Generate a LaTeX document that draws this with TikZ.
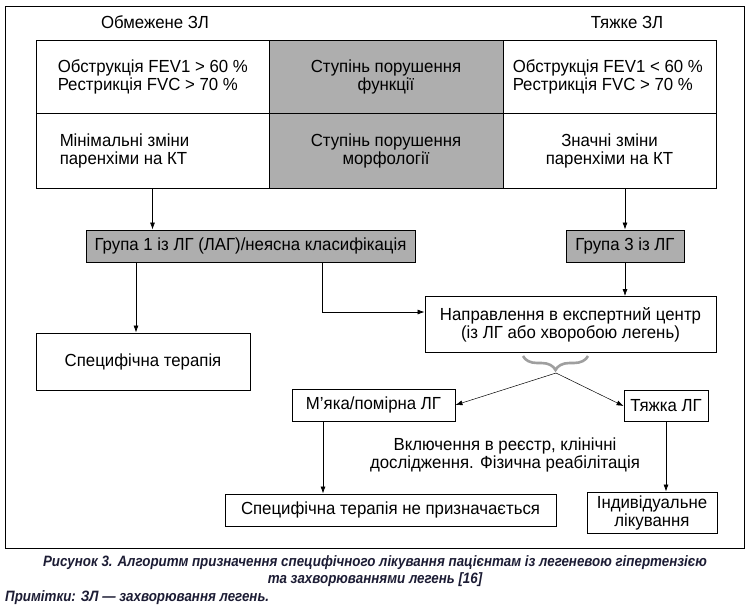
\documentclass[tikz,border=0pt]{standalone}
\usepackage{fontspec}
\setmainfont{Liberation Sans}[FakeStretch=0.96]
\newfontfamily\capfont{Liberation Sans}[FakeStretch=0.89]
\usetikzlibrary{arrows.meta,decorations.pathreplacing,calc}
\definecolor{boxgray}{RGB}{174,174,174}
\definecolor{capcol}{RGB}{28,28,52}
\begin{document}
\begin{tikzpicture}[x=1pt,y=-1pt,
  every node/.style={font=\fontsize{17.5}{18}\selectfont, inner sep=0pt},
  cell/.style={draw, line width=0.9pt, rectangle, align=center},
  graycell/.style={cell, fill=boxgray},
  box/.style={draw, line width=0.9pt, rectangle, align=center},
  graybox/.style={box, fill=boxgray},
  arr/.style={line width=0.7pt, -{Latex[length=7pt,width=5pt]}},
  capstyle/.style={font=\capfont\bfseries\itshape\fontsize{15}{16.5}\selectfont, text=capcol}]
\useasboundingbox (0,0) rectangle (749,611);
% outer frame
\draw[line width=0.9pt] (5,6) rectangle (744,548);
% headings
\node (h1) at (155,22) {Обмежене ЗЛ};
\node (h2) at (627,22) {Тяжке ЗЛ};
% table cells
\node[cell, minimum width=233, minimum height=73] (c11) at (152.5,76.5) {};
\node[graycell, minimum width=234, minimum height=73] (c12) at (386,76.5) {Ступінь порушення\\функції};
\node[cell, minimum width=213, minimum height=73] (c13) at (609.5,76.5) {};
\node[cell, minimum width=233, minimum height=75] (c21) at (152.5,150.5) {};
\node[graycell, minimum width=234, minimum height=75] (c22) at (386,150.5) {Ступінь порушення\\морфології};
\node[cell, minimum width=213, minimum height=75] (c23) at (609.5,150.5) {Значні зміни\\паренхіми на КТ};
\node[anchor=west, align=left] (t11) at ($(c11.west)+(22,0)$) {Обструкція FEV1 > 60 \%\\Рестрикція FVC > 70 \%};
\node[anchor=west, align=left] (t13) at ($(c13.west)+(10,0)$) {Обструкція FEV1 < 60 \%\\Рестрикція FVC > 70 \%};
\node[anchor=west, align=left] (t21) at ($(c21.west)+(24,0)$) {Мінімальні зміни\\паренхіми на КТ};
% groups
\node[graybox, minimum width=329, minimum height=32] (g1) at (250.5,246) {Група 1 із ЛГ (ЛАГ)/неясна класифікація};
\node[graybox, minimum width=118, minimum height=32] (g3) at (625,246) {Група 3 із ЛГ};
% other boxes
\node[box, minimum width=214, minimum height=57] (spec) at (143,361.5) {Специфічна терапія};
\node[box, minimum width=291, minimum height=56] (napr) at (570.5,324.5) {Направлення в експертний центр\\(із ЛГ або хворобою легень)};
\node[box, minimum width=163, minimum height=32] (myaka) at (373.5,405) {М’яка/помірна ЛГ};
\node[box, minimum width=84, minimum height=31] (tyazh) at (666,406) {Тяжка ЛГ};
\node[align=center] (vkl) at (505,455) {Включення в реєстр, клінічні\\дослідження. Фізична реабілітація};
\node[box, minimum width=331, minimum height=32] (nespec) at (390.5,510) {Специфічна терапія не призначається};
\node[box, minimum width=130, minimum height=41, align=center] (indiv) at (652,512.5) {Індивідуальне\\лікування};
% coordinates
\coordinate (xa) at (136,0);
\coordinate (xb) at (322,0);
\coordinate (ya) at (0,312);
\coordinate (xm) at (323,0);
\coordinate (tip) at (556,373);
\coordinate (br1) at (588,356);
\coordinate (br2) at (523,356);
% connectors
\draw[arr] (c21.south) -- (c21.south |- g1.north);
\draw[arr] (c23.south -| g3.north) -- (g3.north);
\draw[arr] (g1.south -| xa) -- (spec.north -| xa);
\draw[arr] (g1.south -| xb) -- (xb |- ya) -- (napr.west |- ya);
\draw[arr] (g3.south) -- (g3.south |- napr.north);
\draw[decorate, decoration={brace, amplitude=14pt}, line width=2.6pt, draw=gray!75] (br1) -- (br2);
\draw[arr, line width=0.5pt] (tip) -- (myaka.east);
\draw[arr, line width=0.5pt] (tip) -- (tyazh.west);
\draw[arr] (myaka.south -| xm) -- (nespec.north -| xm);
\draw[arr] (tyazh.south) -- (tyazh.south |- indiv.north);
% caption
\node[capstyle, align=center] (cap) at (375,571) {Рисунок 3. Алгоритм призначення специфічного лікування пацієнтам із легеневою гіпертензією\\та захворюваннями легень [16]};
\node[capstyle, anchor=west] (note) at (5,598) {Примітки: ЗЛ — захворювання легень.};
\end{tikzpicture}
\end{document}
